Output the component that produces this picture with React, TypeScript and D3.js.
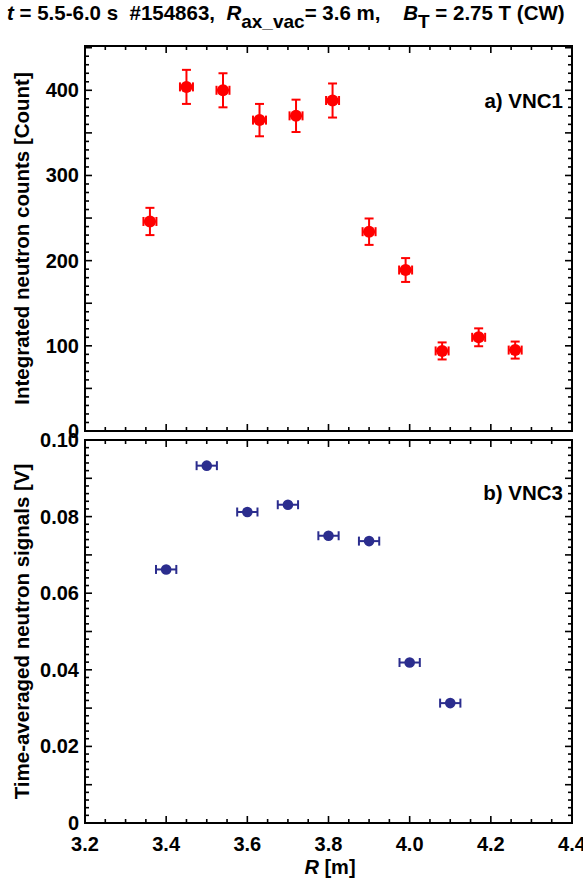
import React from "react";
import * as d3 from "d3";

const vnc1R = [3.36, 3.45, 3.54, 3.63, 3.72, 3.81, 3.90, 3.99, 4.08, 4.17, 4.26];
const vnc1Counts = [246, 404, 400, 365, 370, 388, 234, 189, 94, 110, 95];
const vnc1Err = [16, 20, 20, 19, 19, 20, 15.5, 14, 10, 10.5, 10];
const vnc1RErr = 0.016;

const vnc3R = [3.4, 3.5, 3.6, 3.7, 3.8, 3.9, 4.0, 4.1];
const vnc3Signal = [0.0662, 0.0933, 0.0812, 0.0831, 0.0750, 0.0736, 0.0419, 0.0313];
const vnc3RErr = 0.025;

const xTickLabels = [3.2, 3.4, 3.6, 3.8, 4.0, 4.2, 4.4];
const topTickLabels = [0, 100, 200, 300, 400];
const bottomTickLabels = [0, 0.02, 0.04, 0.06, 0.08, 0.1];

const FONT = "'Liberation Sans', Arial, sans-serif";
const RED = "#ff0000";
const BLUE = "#2b2d8e";

const L = 85, R = 572;
const topT = 46, topB = 431;
const botT = 440, botB = 823;

function range(a: number, b: number, step: number) {
  const out: number[] = [];
  const n = Math.round((b - a) / step);
  for (let i = 0; i <= n; i++) out.push(+(a + i * step).toFixed(6));
  return out;
}

function Frame({ y, top, bottom, major, minor }: any) {
  const x = d3.scaleLinear().domain([3.2, 4.4]).range([L, R]);
  const xMinor = range(3.2, 4.4, 0.05);
  const [y0, y1] = y.domain();
  const yMinor = range(y0, Math.floor(y1 / minor + 1e-9) * minor, minor);
  const isMajorY = (v: number) => Math.abs(v / major - Math.round(v / major)) < 1e-6;
  const isMajorX = (v: number) => Math.abs((v - 3.2) / 0.2 - Math.round((v - 3.2) / 0.2)) < 1e-6;
  const els: any[] = [];
  xMinor.forEach((v, i) => {
    const len = isMajorX(v) ? 7 : 4;
    const px = x(v);
    els.push(<line key={"xb" + i} x1={px} x2={px} y1={bottom} y2={bottom - len} />);
    els.push(<line key={"xt" + i} x1={px} x2={px} y1={top} y2={top + len} />);
  });
  yMinor.forEach((v, i) => {
    const len = isMajorY(v) ? 7 : 4;
    const py = y(v);
    els.push(<line key={"yl" + i} x1={L} x2={L + len} y1={py} y2={py} />);
    els.push(<line key={"yr" + i} x1={R} x2={R - len} y1={py} y2={py} />);
  });
  return (
    <g stroke="#000" strokeWidth={1.6}>
      {els}
      <rect x={L} y={top} width={R - L} height={bottom - top} fill="none" strokeWidth={2} />
    </g>
  );
}

export default function App() {
  const x = d3.scaleLinear().domain([3.2, 4.4]).range([L, R]);
  const yTop = d3.scaleLinear().domain([0, 452]).range([topB, topT]);
  const yBot = d3.scaleLinear().domain([0, 0.1]).range([botB, botT]);

  return (
    <svg width={583} height={879} style={{ position: "absolute", left: 0, top: 0 }} fontFamily={FONT}>
      <rect width={583} height={879} fill="#fff" />
      <text x={7} y={20} fontSize={20.5} fontWeight="bold" style={{ whiteSpace: "pre" }}>
        <tspan fontStyle="italic">t</tspan>
        <tspan>{" = 5.5-6.0 s  #154863,  "}</tspan>
        <tspan fontStyle="italic">R</tspan>
        <tspan dy={8} fontSize={19}>ax_vac</tspan>
        <tspan dy={-8}>{"= 3.6 m,    "}</tspan>
        <tspan fontStyle="italic">B</tspan>
        <tspan dy={8} fontSize={19}>T</tspan>
        <tspan dy={-8}>{" = 2.75 T (CW)"}</tspan>
      </text>

      <Frame y={yTop} top={topT} bottom={topB} major={50} minor={10} />
      <Frame y={yBot} top={botT} bottom={botB} major={0.01} minor={0.002} />

      <g fontSize={20} fontWeight="bold" textAnchor="end">
        {topTickLabels.map((v) => (
          <text key={"tl" + v} x={79} y={yTop(v) + 7}>{v}</text>
        ))}
        {bottomTickLabels.map((v) => (
          <text key={"bl" + v} x={79} y={yBot(v) + 7}>{v === 0 ? "0" : v.toFixed(2)}</text>
        ))}
      </g>
      <g fontSize={20} fontWeight="bold" textAnchor="middle">
        {xTickLabels.map((v) => (
          <text key={"xl" + v} x={x(v)} y={851}>{v.toFixed(1)}</text>
        ))}
      </g>
      <text x={330} y={874} fontSize={20} fontWeight="bold" textAnchor="middle" style={{ whiteSpace: "pre" }}>
        <tspan fontStyle="italic">R</tspan>
        <tspan>{" [m]"}</tspan>
      </text>

      <text transform={`translate(29,${(topT + topB) / 2}) rotate(-90)`} fontSize={20.5} fontWeight="bold" textAnchor="middle">
        Integrated neutron counts [Count]
      </text>
      <text transform={`translate(29,${(botT + botB) / 2}) rotate(-90)`} fontSize={20.5} fontWeight="bold" textAnchor="middle">
        Time-averaged neutron signals [V]
      </text>

      <text x={563} y={108} fontSize={20.5} fontWeight="bold" textAnchor="end">a) VNC1</text>
      <text x={563} y={500} fontSize={20.5} fontWeight="bold" textAnchor="end">b) VNC3</text>

      <g stroke={RED} strokeWidth={2} fill={RED}>
        {vnc1R.map((r, i) => {
          const cx = x(r), cy = yTop(vnc1Counts[i]);
          const yt = yTop(vnc1Counts[i] + vnc1Err[i]), yb = yTop(vnc1Counts[i] - vnc1Err[i]);
          const xl = x(r - vnc1RErr), xr = x(r + vnc1RErr);
          return (
            <g key={"p1" + i}>
              <line x1={cx} x2={cx} y1={yt} y2={yb} />
              <line x1={cx - 4.5} x2={cx + 4.5} y1={yt} y2={yt} />
              <line x1={cx - 4.5} x2={cx + 4.5} y1={yb} y2={yb} />
              <line x1={xl} x2={xr} y1={cy} y2={cy} />
              <line x1={xl} x2={xl} y1={cy - 4.5} y2={cy + 4.5} />
              <line x1={xr} x2={xr} y1={cy - 4.5} y2={cy + 4.5} />
              <circle cx={cx} cy={cy} r={6} stroke="none" />
            </g>
          );
        })}
      </g>

      <g stroke={BLUE} strokeWidth={2} fill={BLUE}>
        {vnc3R.map((r, i) => {
          const cx = x(r), cy = yBot(vnc3Signal[i]);
          const xl = x(r - vnc3RErr), xr = x(r + vnc3RErr);
          return (
            <g key={"p3" + i}>
              <line x1={xl} x2={xr} y1={cy} y2={cy} />
              <line x1={xl} x2={xl} y1={cy - 4.5} y2={cy + 4.5} />
              <line x1={xr} x2={xr} y1={cy - 4.5} y2={cy + 4.5} />
              <circle cx={cx} cy={cy} r={5.3} stroke="none" />
            </g>
          );
        })}
      </g>
    </svg>
  );
}
